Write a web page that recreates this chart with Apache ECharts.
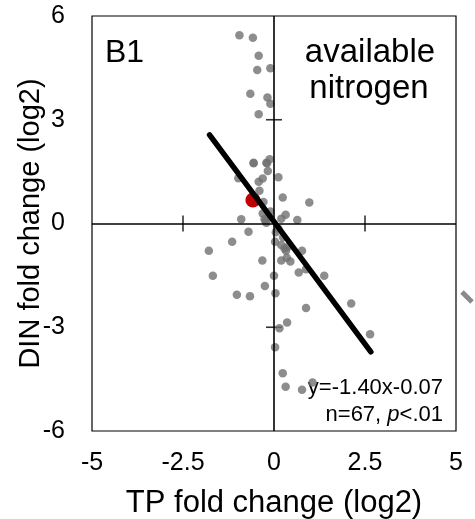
<!DOCTYPE html>
<html>
<head>
<meta charset="utf-8">
<script src="https://cdn.jsdelivr.net/npm/echarts@6/dist/echarts.min.js"></script>
<style>
html,body{margin:0;padding:0;background:#fff;}
#chart{width:475px;height:519px;}
</style>
</head>
<body>
<div id="chart"></div>
<script>
// TP fold change (log2) and DIN fold change (log2) for each site
var tpChange = [-0.95,-0.58,-0.42,-0.46,-0.10,-0.65,-0.18,-0.10,-0.42,-0.56,
  -0.56,-0.21,-0.19,-0.12,-0.17,-0.31,-0.42,0.12,-0.98,-0.29,
  0.24,0.97,-0.31,-0.90,-0.26,-0.21,-0.23,0.32,0.20,0.64,
  -0.70,-1.15,-1.79,0.03,0.20,0.29,0.33,0.38,0.77,-0.32,
  0.20,0.35,0.68,0.88,-1.68,0.00,-0.25,-1.02,-0.66,0.04,
  0.88,1.38,2.12,2.64,0.15,0.36,0.03,0.24,0.32,0.77,
  1.06,-0.10,0.05,0.25,0.12,-0.40,0.45];
var dinChange = [5.44,5.37,4.85,4.44,4.49,3.75,3.64,3.46,3.16,1.76,
  1.74,1.76,1.74,1.86,1.52,1.30,1.21,1.34,1.31,0.62,
  0.75,0.61,0.29,0.12,0.12,0.02,0.08,0.25,0.14,0.10,
  -0.24,-0.53,-0.79,-0.53,-0.62,-0.72,-0.79,-0.67,-0.79,-1.07,
  -1.07,-0.99,-1.42,-1.32,-1.51,-1.51,-1.81,-2.06,-2.10,-2.02,
  -2.44,-1.51,-2.31,-3.20,-3.03,-2.86,-3.58,-4.33,-4.72,-4.81,
  -4.60,0.35,-0.25,-0.40,-0.15,0.95,-1.10];
// highlighted (mean) point
var meanPoint = [-0.58, 0.68];
// regression line y=-1.40x-0.07, drawn across the data range
var fitX = [-1.77, 2.66];
var fitY = [2.56, -3.71];
// tick labels
var xTicks = [-5, -2.5, 0, 2.5, 5];
var yTicks = [-6, -3, 0, 3, 6];
// cross ticks on the zero axes
var zeroTicksX = [-2.5, 2.5];
var zeroTicksY = [-3, 3];

var FONT = '"Liberation Sans", Arial, sans-serif';
var pts = tpChange.map(function(x, i){ return [x, dinChange[i]]; });
var fitData = fitX.map(function(x, i){ return [x, fitY[i]]; });

var chart = echarts.init(document.getElementById('chart'));
chart.setOption({
  animation: false,
  backgroundColor: '#fff',
  grid: {left: 92, right: 19, top: 16, bottom: 88, containLabel: false, outerBoundsMode: 'none',
    show: true, borderColor: '#000', borderWidth: 1.2, backgroundColor: 'transparent'},
  xAxis: {
    type: 'value', min: xTicks[0], max: xTicks[xTicks.length-1], interval: 2.5,
    axisLine: {show: false}, axisTick: {show: false}, splitLine: {show: false},
    axisLabel: {color: '#000', fontSize: 25, fontFamily: FONT, margin: 20},
    name: 'TP fold change (log2)', nameLocation: 'middle', nameGap: 57, nameMoveOverlap: false,
    nameTextStyle: {color: '#000', fontSize: 31, fontFamily: FONT}
  },
  yAxis: {
    type: 'value', min: yTicks[0], max: yTicks[yTicks.length-1], interval: 3,
    axisLine: {show: false}, axisTick: {show: false}, splitLine: {show: false},
    axisLabel: {color: '#000', fontSize: 25, fontFamily: FONT, margin: 27},
    name: 'DIN fold change (log2)', nameLocation: 'middle', nameGap: 47, nameMoveOverlap: false,
    nameTextStyle: {color: '#000', fontSize: 29, fontFamily: FONT}
  },
  series: [
    {
      type: 'scatter', data: pts, symbolSize: 8.5, z: 3,
      itemStyle: {color: 'rgb(112,112,112)', opacity: 0.8},
      markLine: {
        silent: true, symbol: 'none', label: {show: false},
        lineStyle: {color: '#000', width: 1.6, type: 'solid'},
        data: [{xAxis: 0}, {yAxis: 0}]
      }
    },
    {
      type: 'scatter', data: zeroTicksY.map(function(v){ return [0, v]; }),
      symbol: 'rect', symbolSize: [16, 1.6], z: 2,
      itemStyle: {color: '#000'}, silent: true
    },
    {
      type: 'scatter', data: zeroTicksX.map(function(v){ return [v, 0]; }),
      symbol: 'rect', symbolSize: [1.6, 16], z: 2,
      itemStyle: {color: '#000'}, silent: true
    },
    {
      type: 'scatter', data: [meanPoint], symbolSize: 15, z: 4,
      itemStyle: {color: '#c00000', opacity: 1}
    },
    {
      type: 'line', data: fitData, symbol: 'none', z: 5,
      lineStyle: {color: '#000', width: 5.5, cap: 'round'}
    }
  ],
  graphic: [
    {type: 'text', left: 105, top: 37, style: {text: 'B1', fontSize: 32, fontFamily: FONT, fill: '#000'}},
    {type: 'text', x: 370, y: 53, style: {text: 'available', fontSize: 33, fontFamily: FONT, fill: '#000', textAlign: 'center', textVerticalAlign: 'middle'}},
    {type: 'text', x: 369, y: 89, style: {text: 'nitrogen', fontSize: 33, fontFamily: FONT, fill: '#000', textAlign: 'center', textVerticalAlign: 'middle'}},
    {type: 'text', x: 443, y: 388, style: {text: 'y=-1.40x-0.07', fontSize: 22, fontFamily: FONT, fill: '#000', textAlign: 'right', textVerticalAlign: 'middle'}},
    {type: 'text', x: 443, y: 415, style: {
      text: '{a|n=67, }{i|p}{a|<.01}', textAlign: 'right', textVerticalAlign: 'middle',
      rich: {a: {fontSize: 22, fontFamily: FONT, fill: '#000'}, i: {fontSize: 22, fontFamily: FONT, fontStyle: 'italic', fill: '#000'}}
    }},
    {type: 'line', shape: {x1: 462, y1: 292, x2: 472, y2: 302}, style: {stroke: '#8a8a8a', lineWidth: 5}}
  ]
});
</script>
</body>
</html>
